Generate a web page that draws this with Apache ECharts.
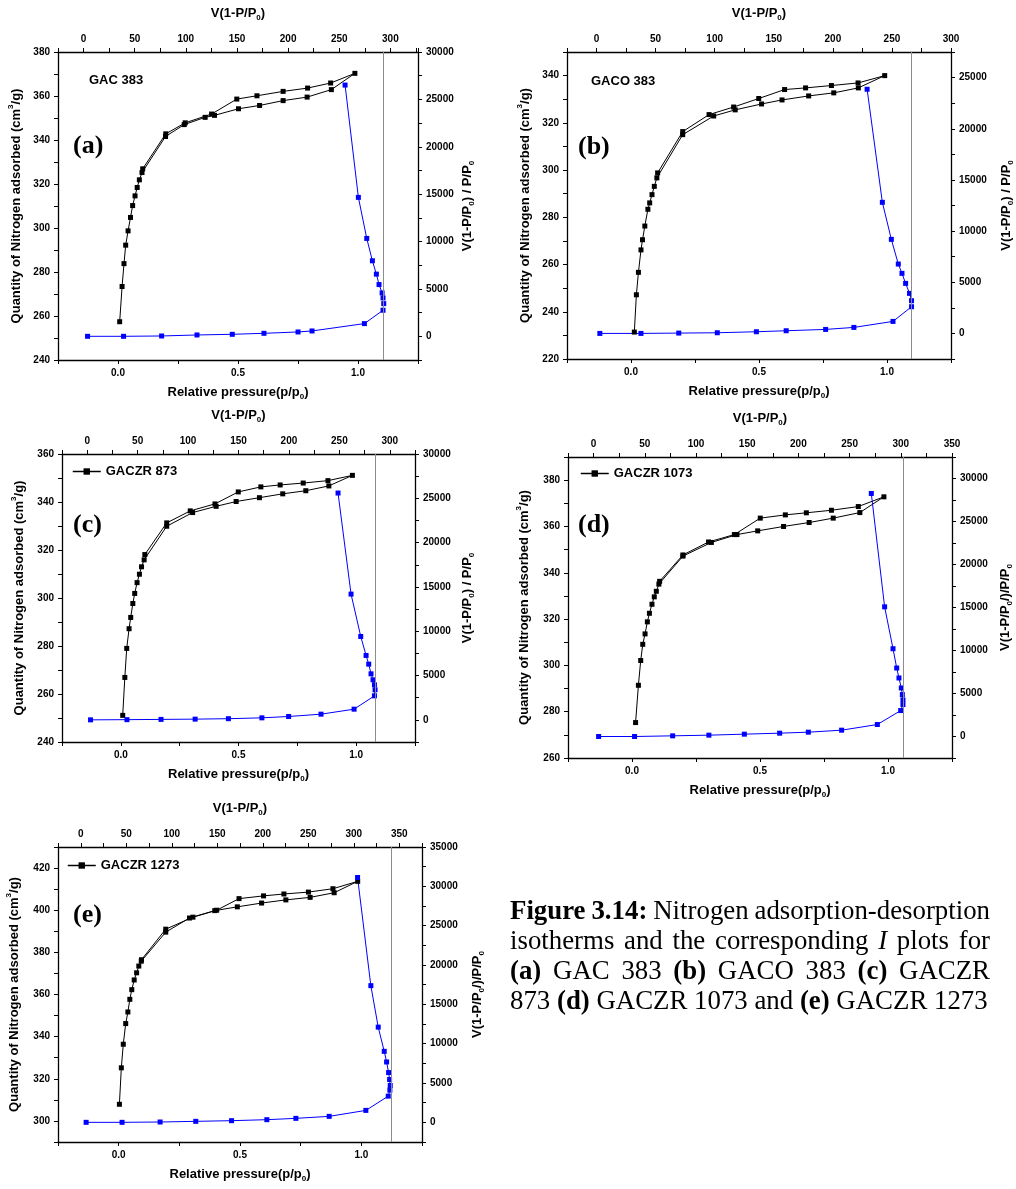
<!DOCTYPE html>
<html><head><meta charset="utf-8">
<script src="https://cdn.jsdelivr.net/npm/echarts@6/dist/echarts.min.js"></script>
<style>html,body{margin:0;padding:0;background:#fff}#c{width:1016px;height:1189px}</style>
</head><body><div id="c"></div>
<script>
// ---------- DATA ----------
const panelNames = ['GAC 383', 'GACO 383', 'GACZR 873', 'GACZR 1073', 'GACZR 1273'];
const panelTags = ['(a)', '(b)', '(c)', '(d)', '(e)'];

// Isotherms: [relative pressure p/p0, quantity adsorbed cm3/g] (adsorption then desorption)
const iso_GAC383 = [[0.007,257.4],[0.017,273.4],[0.025,283.8],[0.032,292.2],[0.042,298.7],[0.052,304.8],[0.061,310.2],[0.071,314.6],[0.080,318.4],[0.089,321.9],[0.100,325.2],[0.198,341.6],[0.276,347.0],[0.363,350.3],[0.402,351.2],[0.502,354.2],[0.590,355.7],[0.688,357.9],[0.788,359.5],[0.889,362.9],[0.987,370.3],[0.886,365.9],[0.790,363.6],[0.688,362.1],[0.579,360.1],[0.495,358.6],[0.390,351.8],[0.280,347.8],[0.199,342.8],[0.103,326.9]];
const iso_GACO383 = [[0.013,231.4],[0.021,247.2],[0.029,256.7],[0.039,266.2],[0.045,270.5],[0.054,276.3],[0.066,283.4],[0.073,286.1],[0.082,289.6],[0.091,293.1],[0.101,296.7],[0.202,315.0],[0.323,322.9],[0.407,325.5],[0.510,328.0],[0.590,329.7],[0.694,331.4],[0.792,332.7],[0.888,334.8],[0.991,340.0],[0.887,336.9],[0.783,335.8],[0.682,334.8],[0.600,334.1],[0.499,330.3],[0.401,326.7],[0.305,323.5],[0.202,316.3],[0.104,298.8]];
const iso_GACZR873 = [[0.008,251.1],[0.017,266.9],[0.025,279.0],[0.035,287.2],[0.042,291.9],[0.051,297.7],[0.059,301.9],[0.069,306.4],[0.079,309.9],[0.088,313.0],[0.099,315.9],[0.195,329.9],[0.305,335.6],[0.405,338.2],[0.490,340.2],[0.589,341.8],[0.688,343.4],[0.786,344.7],[0.884,346.7],[0.984,351.1],[0.880,348.9],[0.775,347.9],[0.677,347.1],[0.595,346.3],[0.499,344.2],[0.400,339.2],[0.295,336.3],[0.195,331.3],[0.102,318.1]];
const iso_GACZR1073 = [[0.014,275.3],[0.025,291.4],[0.034,302.1],[0.042,309.1],[0.051,313.6],[0.060,318.8],[0.068,322.5],[0.078,326.4],[0.087,329.6],[0.095,332.0],[0.105,335.1],[0.199,347.2],[0.310,353.1],[0.410,356.5],[0.491,358.1],[0.592,360.0],[0.692,361.7],[0.786,363.6],[0.890,366.0],[0.984,372.8],[0.884,368.6],[0.779,367.0],[0.681,365.9],[0.599,365.0],[0.501,363.6],[0.400,356.5],[0.299,353.3],[0.199,347.7],[0.108,336.3]];
const iso_GACZR1273 = [[0.003,307.9],[0.011,325.2],[0.019,336.4],[0.029,346.2],[0.038,351.7],[0.046,357.7],[0.054,362.3],[0.064,366.9],[0.074,370.3],[0.083,373.5],[0.093,375.8],[0.194,389.6],[0.292,396.3],[0.396,399.8],[0.489,401.6],[0.589,403.4],[0.689,404.9],[0.789,406.1],[0.888,408.3],[0.985,413.7],[0.883,410.2],[0.782,408.6],[0.681,407.7],[0.597,406.8],[0.496,405.5],[0.404,400.0],[0.306,396.7],[0.194,391.0],[0.094,376.5]];

// I-plots: [V(1-P/P0), V(1-P/P0)/(P/P0)]
const ip_GAC383 = [[3.9,0],[39.1,0],[76.3,35],[110.9,141],[145.4,211],[176.4,317],[209.7,458],[223.4,564],[274.6,1340],[292.8,2750],[293.5,3450],[292.8,4050],[291.9,4580],[288.9,5460],[286.3,6560],[282.4,7970],[276.9,10330],[268.7,14660],[255.7,26510]];
const ip_GACO383 = [[2.8,0],[37.6,0],[69.6,33],[102.2,65],[135.3,163],[160.5,261],[193.9,391],[217.8,587],[250.9,1173],[266.6,2608],[266.6,3194],[264.9,3911],[261.6,4889],[258.5,5867],[255.4,6780],[249.5,9192],[241.9,12810],[229.0,23860]];
const ip_GACZR873 = [[3.3,0],[39.4,20],[73.2,50],[107.0,80],[140.0,130],[173.2,226],[199.7,376],[231.8,640],[264.6,1204],[284.8,2710],[285.4,3388],[284.8,3952],[283.4,4517],[281.4,5194],[279.1,6286],[276.5,7265],[271.2,9410],[261.6,14190],[248.7,25595]];
const ip_GACZR1073 = [[4.9,0],[40.0,0],[77.2,77],[112.6,155],[147.2,271],[181.7,387],[209.7,503],[242.2,735],[277.1,1392],[299.9,3015],[302.1,3711],[302.1,4253],[301.5,4871],[300.5,5644],[298.2,6804],[296.0,7964],[292.4,10206],[284.2,15077],[271.2,28260]];
const ip_GACZR1273 = [[5.9,0],[45.4,0],[87.2,42],[126.4,127],[165.7,211],[204.5,337],[236.4,506],[273.0,759],[313.3,1518],[337.9,3331],[339.7,4090],[340.1,4681],[339.4,5440],[338.3,6326],[336.1,7675],[333.5,9024],[326.9,12102],[318.8,17374],[304.2,31121]];

// vertical reference line (top axis value)
const vLineAt = [293.5, 266.6, 285.4, 302.8, 341.6];

// axis ranges
const bottomXRange = [-0.25, 1.25];
const leftYRange = [[240,380],[220,350],[240,360],[260,390],[290,430]];
const topXRange = [[-25,327],[-25,300],[-25,325],[-25,350],[-25,375]];
const rightYRange = [[-2500,30000],[-2500,27500],[-2500,30000],[-2500,32500],[-2500,35000]];

const isoData = [iso_GAC383, iso_GACO383, iso_GACZR873, iso_GACZR1073, iso_GACZR1273];
const ipData = [ip_GAC383, ip_GACO383, ip_GACZR873, ip_GACZR1073, ip_GACZR1273];

// ---------- LAYOUT / STYLE ----------
const SANS = "'Liberation Sans', Arial, Helvetica, sans-serif";
const SERIF = "'Liberation Serif', 'Times New Roman', serif";
const layouts = [
  {left:58, top:52, width:360, height:308},
  {left:567, top:52, width:386, height:307},
  {left:62, top:454, width:353, height:288},
  {left:568, top:457, width:384, height:301},
  {left:58, top:847, width:364, height:295}
];
const rightTitles = [
  'V(1-P/P{s|0}) / P/P{s|0}', 'V(1-P/P{s|0}) / P/P{s|0}', 'V(1-P/P{s|0}) / P/P{s|0}',
  'V(1-P/P{s|0}/)/P/P{s|0}', 'V(1-P/P{s|0}/)/P/P{s|0}'
];
const rightGap = [40, 46, 43, 44, 46];
const leftGap = [33, 33, 34, 35, 35];
const tagPos = [[73,146],[578,147],[73,525],[578,525],[73,915]];
const namePos = [[89,80],[591,81]];
const legendPos = [null, null, [72,465], [580,467], [67,859]];

const isMult = (v, m) => Math.abs(v / m - Math.round(v / m)) < 1e-6;
const rich = {
  s: {fontFamily: SANS, fontWeight: 'bold', fontSize: 8, color: '#000', verticalAlign: 'bottom', lineHeight: 10},
  p: {fontFamily: SANS, fontWeight: 'bold', fontSize: 8, color: '#000', verticalAlign: 'top', lineHeight: 10}
};
const nameStyle = {fontFamily: SANS, fontWeight: 'bold', fontSize: 13, color: '#000', lineHeight: 18, rich: rich};
const axLine = {show: true, onZero: false, lineStyle: {color: '#000', width: 1.3}};
const tick = {show: true, inside: false, length: 4, lineStyle: {color: '#000', width: 1}};
const lab = (fmt, margin) => ({color: '#000', fontFamily: SANS, fontWeight: 'bold', fontSize: 10,
  showMinLabel: true, showMaxLabel: true, margin: margin, formatter: fmt});

const grids = [], xAxes = [], yAxes = [], series = [], legends = [], graphics = [];

for (let i = 0; i < 5; i++) {
  grids.push(Object.assign({containLabel: false}, layouts[i]));
  xAxes.push({
    gridIndex: i, type: 'value', position: 'bottom', min: bottomXRange[0], max: bottomXRange[1], interval: 0.25,
    axisLine: axLine, axisTick: tick, splitLine: {show: false},
    axisLabel: lab(v => (isMult(v, 0.5) && v > -0.01 && v < 1.01) ? v.toFixed(1) : '', 8),
    name: 'Relative pressure(p/p{s|0})', nameLocation: 'middle', nameGap: 23, nameTextStyle: nameStyle
  });
  xAxes.push({
    gridIndex: i, type: 'value', position: 'top', min: topXRange[i][0], max: topXRange[i][1], interval: 25,
    axisLine: axLine, axisTick: tick, splitLine: {show: false},
    axisLabel: lab(v => (isMult(v, 50) && v >= 0) ? String(Math.round(v)) : '', 8),
    name: 'V(1-P/P{s|0})', nameLocation: 'middle', nameGap: 30, nameTextStyle: nameStyle
  });
  yAxes.push({
    gridIndex: i, type: 'value', position: 'left', min: leftYRange[i][0], max: leftYRange[i][1], interval: 10,
    axisLine: axLine, axisTick: tick, splitLine: {show: false},
    axisLabel: lab(v => isMult(v, 20) ? String(Math.round(v)) : '', 8),
    name: 'Quantity of Nitrogen adsorbed (cm{p|3}/g)', nameLocation: 'middle', nameGap: leftGap[i], nameTextStyle: nameStyle
  });
  yAxes.push({
    gridIndex: i, type: 'value', position: 'right', min: rightYRange[i][0], max: rightYRange[i][1], interval: 2500,
    axisLine: axLine, axisTick: tick, splitLine: {show: false},
    axisLabel: lab(v => (isMult(v, 5000) && v >= 0) ? String(Math.round(v)) : '', 8),
    name: rightTitles[i], nameLocation: 'middle', nameGap: rightGap[i], nameTextStyle: nameStyle
  });
  series.push({
    type: 'line', name: panelNames[i], xAxisIndex: 2 * i, yAxisIndex: 2 * i, data: isoData[i],
    symbol: 'rect', symbolSize: 5, itemStyle: {color: '#000'}, lineStyle: {color: '#000', width: 1},
    emphasis: {disabled: true}
  });
  series.push({
    type: 'line', name: panelNames[i] + ' I-plot', xAxisIndex: 2 * i + 1, yAxisIndex: 2 * i + 1, data: ipData[i],
    symbol: 'rect', symbolSize: 5, itemStyle: {color: '#0000ff'}, lineStyle: {color: '#0000ff', width: 1},
    emphasis: {disabled: true},
    markLine: {silent: true, symbol: 'none', label: {show: false}, animation: false,
      lineStyle: {color: '#8c8c8c', width: 1, type: 'solid'}, data: [{xAxis: vLineAt[i]}]}
  });
  graphics.push({type: 'text', x: tagPos[i][0], y: tagPos[i][1],
    style: {text: panelTags[i], fontFamily: SERIF, fontWeight: 'bold', fontSize: 26, fill: '#000',
      verticalAlign: 'middle', textVerticalAlign: 'middle'}});
  if (legendPos[i]) {
    legends.push({data: [panelNames[i]], left: legendPos[i][0], top: legendPos[i][1], padding: 0,
      itemWidth: 28, itemHeight: 8, selectedMode: false, lineStyle: {width: 1.5},
      textStyle: {fontFamily: SANS, fontWeight: 'bold', fontSize: 13, color: '#000'}});
  } else {
    graphics.push({type: 'text', x: namePos[i][0], y: namePos[i][1],
      style: {text: panelNames[i], fontFamily: SANS, fontWeight: 'bold', fontSize: 13, fill: '#000',
        verticalAlign: 'middle', textVerticalAlign: 'middle'}});
  }
}

// ---------- CAPTION (justified like the original) ----------
const capLines = [
  [['Figure','b'],['3.14:','b'],['Nitrogen'],['adsorption-desorption']],
  [['isotherms'],['and'],['the'],['corresponding'],['I','i'],['plots'],['for']],
  [['(a)','b'],['GAC'],['383'],['(b)','b'],['GACO'],['383'],['(c)','b'],['GACZR']],
  [['873'],['(d)','b'],['GACZR'],['1073'],['and'],['(e)','b'],['GACZR'],['1273']]
];
const capLeft = 510, capRight = 990, capY = [912, 942, 972, 1002];
const ctx = document.createElement('canvas').getContext('2d');
const fontOf = (w, fs) => (w[1] === 'i' ? 'italic ' : '') + (w[1] === 'b' ? 'bold ' : '') + fs + 'px "Liberation Serif"';
const measure = (w, fs) => { ctx.font = fontOf(w, fs); return ctx.measureText(w[0]).width; };
let capFs = 26;
{
  const last = capLines[3];
  let w = 0; last.forEach(t => w += measure(t, 26));
  ctx.font = '26px "Liberation Serif"';
  w += ctx.measureText(' ').width * (last.length - 1);
  capFs = Math.min(28, 26 * 478 / w);
}
capLines.forEach((line, li) => {
  const widths = line.map(t => measure(t, capFs));
  const total = widths.reduce((a, b) => a + b, 0);
  ctx.font = capFs + 'px "Liberation Serif"';
  const gap = li < 3 ? (capRight - capLeft - total) / (line.length - 1) : ctx.measureText(' ').width;
  let x = capLeft;
  line.forEach((t, k) => {
    graphics.push({type: 'text', x: x, y: capY[li],
      style: {text: t[0], fontFamily: SERIF, fontSize: capFs, fontWeight: t[1] === 'b' ? 'bold' : 'normal',
        fontStyle: t[1] === 'i' ? 'italic' : 'normal', fill: '#000', verticalAlign: 'middle', textVerticalAlign: 'middle'}});
    x += widths[k] + gap;
  });
});

const chart = echarts.init(document.getElementById('c'), null, {renderer: 'canvas', width: 1016, height: 1189});
chart.setOption({
  animation: false,
  backgroundColor: '#fff',
  grid: grids, xAxis: xAxes, yAxis: yAxes, series: series, legend: legends, graphic: graphics
});
</script></body></html>
